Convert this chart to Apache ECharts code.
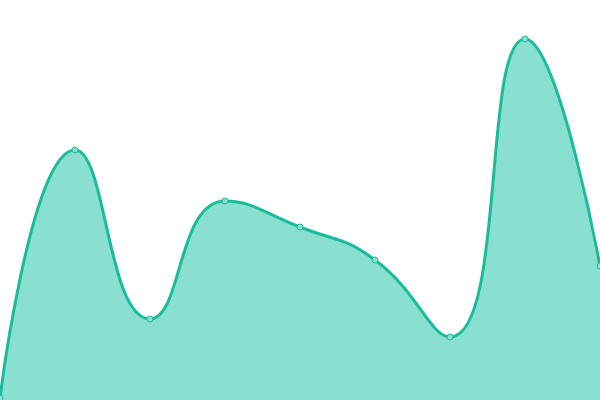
<!DOCTYPE html>
<html>
<head>
<meta charset="utf-8">
<style>
  html, body { margin: 0; padding: 0; background: #fff; }
  #chart { width: 600px; height: 400px; }
</style>
<script src="https://cdn.jsdelivr.net/npm/echarts@6/dist/echarts.min.js"></script>
</head>
<body>
<div id="chart"></div>
<script>
var categories = ['1', '2', '3', '4', '5', '6', '7', '8', '9'];
var values = [2, 250, 81, 199, 173, 140, 63, 361, 134];

var chartDom = document.getElementById('chart');
var myChart = echarts.init(chartDom);
var option = {
  animation: false,
  grid: { left: 0, right: 0, top: 0, bottom: 0 },
  xAxis: {
    type: 'category',
    boundaryGap: false,
    data: categories,
    show: false
  },
  yAxis: {
    type: 'value',
    min: 0,
    max: 400,
    show: false
  },
  series: [
    {
      type: 'line',
      smooth: true,
      data: values,
      symbol: 'circle',
      symbolSize: 6,
      lineStyle: { color: '#1abc9c', width: 3 },
      itemStyle: { color: '#8ae0d0', borderColor: '#1abc9c', borderWidth: 1 },
      areaStyle: { color: '#8ae0d0', opacity: 1 }
    }
  ]
};
myChart.setOption(option);
</script>
</body>
</html>
